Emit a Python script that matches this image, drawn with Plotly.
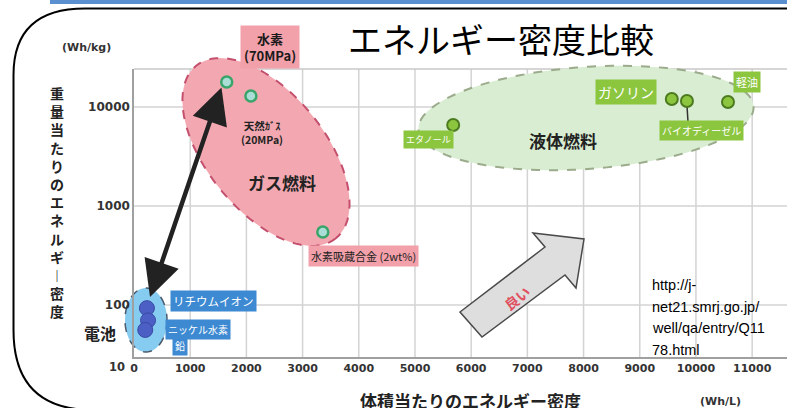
import math
import numpy as np
import plotly.graph_objects as go

# ---------------- data ----------------
battery_labels = ["リチウムイオン", "ニッケル水素", "鉛"]
battery_x = [230, 250, 200]
battery_y = [93, 70, 56]

gas_labels = ["水素<br>(70MPa)", "天然ｶﾞｽ<br>(20MPa)", "水素吸蔵合金 (2wt%)"]
gas_x = [1650, 2080, 3360]
gas_y = [17900, 12900, 546]

liquid_labels = ["エタノール", "ガソリン", "バイオディーゼル", "軽油"]
liquid_x = [5680, 9570, 9840, 10570]
liquid_y = [6580, 12050, 11500, 11230]

group_labels = ["電池", "ガス燃料", "液体燃料"]

x_tick_vals = [0, 1000, 2000, 3000, 4000, 5000, 6000, 7000, 8000, 9000, 10000, 11000]
x_tick_text = [str(v) for v in x_tick_vals]
y_tick_vals = [100, 1000, 10000]
y_tick_text = ["100", "1000", "10000"]
y_bottom_text = "10"

title_text = "エネルギー密度比較"
x_title = "体積当たりのエネルギー密度"
y_title = "重量当たりのエネルギー密度"
x_unit = "(Wh/L)"
y_unit = "(Wh/kg)"
good_text = "良い"
url_lines = ["http://j-", "net21.smrj.go.jp/", "well/qa/entry/Q11", "78.html"]

# ---------------- layout geometry ----------------
W_FIG, H_FIG = 787, 408
M_L, M_R, M_T, M_B = 134, 0, 69, 51
PW = W_FIG - M_L - M_R
PH = H_FIG - M_T - M_B
X_RANGE = [0, 11620]
Y_RANGE = [1.475, 4.384]

CJK = "Noto Sans CJK JP"
NUM = "DejaVu Sans"


def fx(px):
    return (px - M_L) / PW


def fy(py):
    return (M_T + PH - py) / PH


def ylog_paper(v):
    return (math.log10(v) - Y_RANGE[0]) / (Y_RANGE[1] - Y_RANGE[0])


def ellipse_path(cx, cy, a, b, deg, n=90):
    t = np.linspace(0, 2 * np.pi, n, endpoint=False)
    th = math.radians(deg)
    xs = cx + a * np.cos(t) * math.cos(th) - b * np.sin(t) * math.sin(th)
    ys = cy + a * np.cos(t) * math.sin(th) + b * np.sin(t) * math.cos(th)
    pts = [f"{fx(x):.5f},{fy(y):.5f}" for x, y in zip(xs, ys)]
    return "M " + " L ".join(pts) + " Z"


def poly_path(points, close=True):
    s = "M " + " L ".join(f"{fx(x):.5f},{fy(y):.5f}" for x, y in points)
    return s + (" Z" if close else "")


fig = go.Figure()

# marker traces
fig.add_trace(go.Scatter(
    x=battery_x, y=battery_y, mode="markers", hoverinfo="skip", cliponaxis=False,
    marker=dict(size=15, color="#4b5fc4", line=dict(color="#3a4aa6", width=1)),
))
fig.add_trace(go.Scatter(
    x=gas_x, y=gas_y, mode="markers", hoverinfo="skip", cliponaxis=False,
    marker=dict(size=11, color="#a9ddd6", line=dict(color="#3aa56a", width=2.5)),
))
fig.add_trace(go.Scatter(
    x=liquid_x, y=liquid_y, mode="markers", hoverinfo="skip", cliponaxis=False,
    marker=dict(size=12, color="#8cc63f", line=dict(color="#4c7a1f", width=2)),
))

shapes = []
GRID = "#d3d3d3"
# gridlines (drawn as shapes so the group ellipses can sit above them)
for v in x_tick_vals[1:]:
    shapes.append(dict(type="line", xref="x", yref="paper", x0=v, x1=v, y0=0, y1=1,
                       line=dict(color=GRID, width=1.5), layer="below"))
for v in y_tick_vals:
    p = ylog_paper(v)
    shapes.append(dict(type="line", xref="paper", yref="paper", x0=0, x1=1, y0=p, y1=p,
                       line=dict(color=GRID, width=1.5), layer="below"))
shapes.append(dict(type="line", xref="paper", yref="paper", x0=0, x1=1, y0=1, y1=1,
                   line=dict(color="#c8c8c8", width=1.5), layer="below"))

# group ellipses
shapes.append(dict(type="path", xref="paper", yref="paper", layer="below",
                   path=ellipse_path(266, 152, 111, 59, 51),
                   fillcolor="#f3a8b1", line=dict(color="#c4506e", width=2, dash="dash")))
shapes.append(dict(type="path", xref="paper", yref="paper", layer="below",
                   path=ellipse_path(586, 118, 168, 51, -4),
                   fillcolor="#d8edd1", line=dict(color="#9bab8b", width=2, dash="dash")))
shapes.append(dict(type="path", xref="paper", yref="paper", layer="below",
                   path=ellipse_path(146, 320, 21, 32, 0),
                   fillcolor="#86cbf0", line=dict(color="#4a5a6a", width=1.5, dash="dash")))

# big grey "better" arrow
shapes.append(dict(type="path", xref="paper", yref="paper", layer="below",
                   path=poly_path([(460, 312), (545, 247), (533, 233), (584, 239),
                                   (576, 288), (565, 275), (482, 337)]),
                   fillcolor="#dedede", line=dict(color="#4a4a4a", width=1.5)))

# biodiesel connector
shapes.append(dict(type="line", xref="paper", yref="paper", layer="below",
                   x0=fx(687), y0=fy(106), x1=fx(688), y1=fy(122),
                   line=dict(color="#333333", width=1.5)))

# slide frame
shapes.append(dict(type="rect", xref="paper", yref="paper", layer="above",
                   x0=fx(50), x1=fx(800), y0=fy(-3), y1=fy(4),
                   fillcolor="#5a8fd0", line=dict(width=0)))
frame = (f"M {fx(800):.5f},{fy(8.5):.5f} L {fx(85):.5f},{fy(8.5):.5f} "
         f"Q {fx(13.5):.5f},{fy(8.5):.5f} {fx(13.5):.5f},{fy(75):.5f} "
         f"L {fx(13.5):.5f},{fy(330):.5f} "
         f"Q {fx(13.5):.5f},{fy(410):.5f} {fx(93):.5f},{fy(410):.5f}")
shapes.append(dict(type="path", xref="paper", yref="paper", layer="above",
                   path=frame, line=dict(color="black", width=2)))

ann = []


def text(px, py, t, size, color="#222222", family=CJK, bg=None, pad=1,
         xanchor="center", angle=0):
    d = dict(x=fx(px), y=fy(py), xref="paper", yref="paper", text=t,
             showarrow=False, xanchor=xanchor, yanchor="middle",
             font=dict(family=family, size=size, color=color), borderpad=pad,
             textangle=angle)
    if bg:
        d["bgcolor"] = bg
    ann.append(d)


text(501, 38, title_text, 34, color="black")
text(86, 48, f"<b>{y_unit}</b>", 11, color="#333333", family=NUM)
vert = "<br>".join("︱" if c == "ー" else c for c in y_title)
text(57, 201.5, f"<b>{vert}</b>", 14)
text(470, 400, f"<b>{x_title}</b>", 17)
text(720, 401, f"<b>{x_unit}</b>", 11, color="#333333", family=NUM)
text(117, 367, f"<b>{y_bottom_text}</b>", 11.5, color="#333333", family=NUM)

PINK = "#f2a0a9"
GREEN = "#8cc63f"
BLUE = "#3d8ad2"
text(270, 47, f"<b>{gas_labels[0]}</b>", 13, color="#1a1a1a", bg=PINK, pad=3)
text(262, 132, f"<b>{gas_labels[1]}</b>", 10.5, color="#222222")
text(363, 256, gas_labels[2], 11, color="#222222", bg=PINK, pad=2)
text(428, 139, liquid_labels[0], 9, color="white", bg=GREEN, pad=2)
text(626, 92, liquid_labels[1], 14, color="white", bg=GREEN, pad=2)
text(701, 130, liquid_labels[2], 10, color="white", bg=GREEN, pad=2)
text(747, 82, liquid_labels[3], 11, color="white", bg=GREEN, pad=2)
text(213, 301, battery_labels[0], 11.5, color="white", bg=BLUE, pad=2)
text(198, 329, battery_labels[1], 10, color="white", bg=BLUE, pad=2)
text(180, 345, battery_labels[2], 10, color="white", bg=BLUE, pad=2)
text(100, 333, f"<b>{group_labels[0]}</b>", 16)
text(282, 182, f"<b>{group_labels[1]}</b>", 17)
text(563, 140, f"<b>{group_labels[2]}</b>", 17)
text(517, 298, f"<b>{good_text}</b>", 14, color="#e0505e", angle=-37)
for i, line in enumerate(url_lines):
    text(650, 285 + i * 21.7, line, 14.5, color="black", family="Liberation Sans",
         xanchor="left")

# black double-headed arrow between hydrogen and batteries
ann.append(dict(x=fx(150), y=fy(297), xref="paper", yref="paper", text="",
                showarrow=True, ax=222 - 150, ay=86 - 297, axref="pixel", ayref="pixel",
                arrowside="end+start", arrowhead=2, startarrowhead=2,
                arrowsize=1.6, startarrowsize=1.6, arrowwidth=4.5, arrowcolor="#222222",
                standoff=0, startstandoff=0))

fig.update_layout(
    width=W_FIG, height=H_FIG,
    margin=dict(l=M_L, r=M_R, t=M_T, b=M_B, pad=0),
    paper_bgcolor="white", plot_bgcolor="rgba(0,0,0,0)",
    showlegend=False,
    shapes=shapes, annotations=ann,
    xaxis=dict(range=X_RANGE, showgrid=False, zeroline=False, showline=True,
               linecolor="#a0a0a0", linewidth=1.5, ticks="",
               tickmode="array", tickvals=x_tick_vals, ticktext=x_tick_text,
               tickfont=dict(family=NUM, size=11, color="#333333", weight="bold")),
    yaxis=dict(type="log", range=Y_RANGE, showgrid=False, zeroline=False, showline=True,
               linecolor="#a0a0a0", linewidth=1.5, ticks="",
               tickmode="array", tickvals=y_tick_vals, ticktext=y_tick_text,
               tickfont=dict(family=NUM, size=12, color="#333333", weight="bold")),
)

fig.write_html("out.html")
